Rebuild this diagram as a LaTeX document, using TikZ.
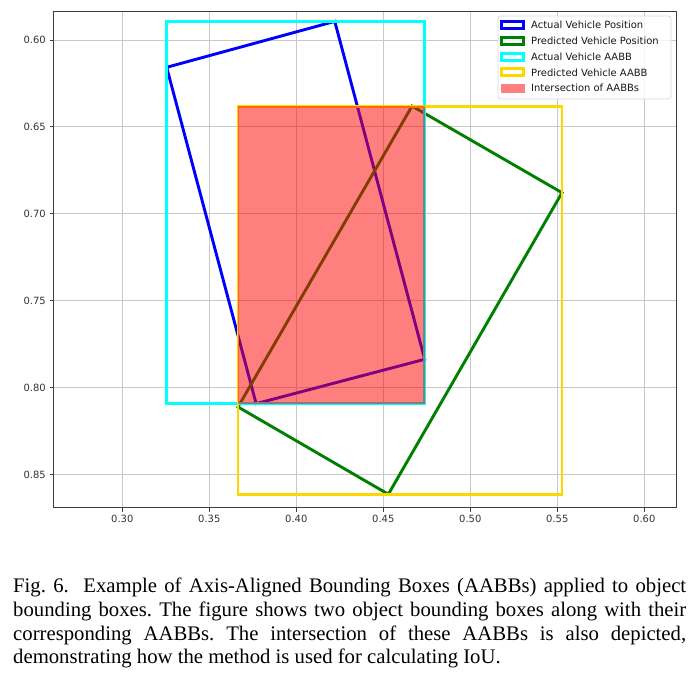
\documentclass[tikz,border=0pt]{standalone}
\usepackage{fontspec}
\setmainfont{Liberation Serif}
\newfontfamily\plotfont{DejaVu Sans}
\usetikzlibrary{positioning}

\definecolor{gold}{RGB}{255,215,0}
\definecolor{mplgreen}{RGB}{0,128,0}
\definecolor{mplcyan}{RGB}{0,255,255}
\definecolor{gridgray}{RGB}{176,176,176}
\definecolor{spine}{RGB}{60,60,60}

\begin{document}
\begin{tikzpicture}[x=1bp, y=-1bp,
		ticklabel/.style={font=\plotfont\fontsize{10}{12}\selectfont, text=black!80, inner sep=0pt},
		boxline/.style={line width=2.9bp, line join=miter},
		legtext/.style={font=\plotfont\fontsize{10}{12}\selectfont, text=black!90, anchor=west, inner sep=0pt}]
		
		\useasboundingbox (0,0) rectangle (696,679);
		
		% Data coordinates (y axis runs downwards)
		\begin{scope}[xshift=-399.7bp, yshift=1003.4bp, x=1740bp, y=-1739bp]
		\def\xmin{0.2607} \def\xmax{0.6182} % x limits
		\def\ymin{0.5833} \def\ymax{0.8689} % y limits
		
		% Grid, ticks and tick labels
		\foreach \xv in {0.30,0.35,0.40,0.45,0.50,0.55,0.60} {
			\draw[gridgray!70, line width=0.9bp] (\xv,\ymin) -- (\xv,\ymax);
			\draw[spine, line width=0.9bp] (\xv,\ymax) -- ++(0,-4bp);
			\node[ticklabel, below=7bp] (xt\xv) at (\xv,\ymax) {\xv};
		}
		\foreach \yv in {0.60,0.65,0.70,0.75,0.80,0.85} {
			\draw[gridgray!70, line width=0.9bp] (\xmin,\yv) -- (\xmax,\yv);
			\draw[spine, line width=0.9bp] (\xmin,\yv) -- ++(-4bp,0);
			\node[ticklabel, left=8bp] (yt\yv) at (\xmin,\yv) {\yv};
		}
		
		% Actual vehicle position
		\coordinate (a1) at (0.3255,0.6157);
		\coordinate (a2) at (0.4221,0.5893);
		\coordinate (a3) at (0.4738,0.7836);
		\coordinate (a4) at (0.3769,0.8091);
		% Predicted vehicle position
		\coordinate (p1) at (0.3665,0.8110);
		\coordinate (p2) at (0.4665,0.6380);
		\coordinate (p3) at (0.5527,0.6878);
		\coordinate (p4) at (0.4529,0.8612);
		
		\draw[boxline, blue] (a1) -- (a2) -- (a3) -- (a4) -- cycle;
		\draw[boxline, mplgreen] (p1) -- (p2) -- (p3) -- (p4) -- cycle;
		
		% AABBs and their intersection
		\draw[boxline, mplcyan] (a1 |- a2) rectangle (a3 |- a4);
		\draw[boxline, gold] (p1 |- p2) rectangle (p3 |- p4);
		\fill[red, opacity=0.5] (p1 |- p2) rectangle (a3 |- a4);
		
		% Axes frame
		\draw[spine, line width=0.9bp] (\xmin,\ymin) rectangle (\xmax,\ymax);
		\end{scope}
		
		% Legend
		\draw[gray!30, fill=white, fill opacity=0.8, rounded corners=2.5bp, line width=0.8bp] (498,16) rectangle (671,99);
		\foreach \n/\col/\txt in {0/blue/Actual Vehicle Position, 1/mplgreen/Predicted Vehicle Position,
			2/mplcyan/Actual Vehicle AABB, 3/gold/Predicted Vehicle AABB} {
			\draw[boxline, \col] (501.5,25+15.8*\n-3.5) rectangle (523.5,25+15.8*\n+3.5);
			\node[legtext] (leg\n) at (531,25+15.8*\n) {\txt};
		}
		\fill[red, opacity=0.5] (500.5,88.2-4.5) rectangle (524.5,88.2+4.5);
		\node[legtext] (leg4) at (531,88.2) {Intersection of AABBs};
		
		% Caption
		\node[anchor=north west, text width=673bp, align=justify, inner sep=0pt,
		font=\fontsize{20.8}{23.7}\selectfont] (caption) at (13,578)
		{\frenchspacing Fig.~6.\ \ Example of Axis-Aligned Bounding Boxes (AABBs) applied to object\linebreak
			bounding boxes. The figure shows two object bounding boxes along with their\linebreak
			corresponding AABBs. The intersection of these AABBs is also depicted,\linebreak
			demonstrating how the method is used for calculating IoU.};
	\end{tikzpicture}
\end{document}
